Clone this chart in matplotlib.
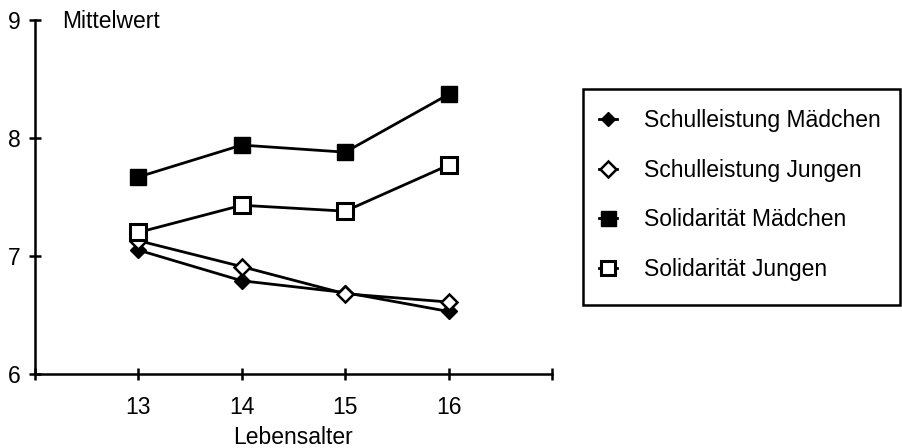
import matplotlib
matplotlib.use("Agg")
import matplotlib.pyplot as plt
from matplotlib.patches import Rectangle

plt.rcParams['font.family'] = ['Liberation Sans', 'DejaVu Sans']

ages = [13, 14, 15, 16]
schul_maedchen = [7.05, 6.79, 6.69, 6.53]
schul_jungen = [7.13, 6.91, 6.68, 6.61]
soli_maedchen = [7.67, 7.94, 7.88, 8.37]
soli_jungen = [7.20, 7.43, 7.38, 7.77]
labels = ["Schulleistung Mädchen", "Schulleistung Jungen",
          "Solidarität Mädchen", "Solidarität Jungen"]
x_ticks = [12, 13, 14, 15, 16, 17]
x_ticklabels = ["", "13", "14", "15", "16", ""]
y_ticks = [6, 7, 8, 9]

W, H = 903, 448
FS = 16.5
fig = plt.figure(figsize=(W / 100, H / 100), dpi=100)
ax = fig.add_axes([35 / W, 1 - 374 / H, (552 - 35) / W, (374 - 20) / H])

lw = 2.0
h1, = ax.plot(ages, schul_maedchen, color='black', lw=lw, marker='D', ms=8,
              mfc='black', mec='black', label=labels[0], zorder=3)
h2, = ax.plot(ages, schul_jungen, color='black', lw=lw, marker='D', ms=8.5,
              mfc='white', mec='black', mew=1.8, label=labels[1], zorder=3)
h3, = ax.plot(ages, soli_maedchen, color='black', lw=lw, marker='s', ms=12,
              mfc='black', mec='black', label=labels[2], zorder=3)
h4, = ax.plot(ages, soli_jungen, color='black', lw=lw, marker='s', ms=11,
              mfc='white', mec='black', mew=2.2, label=labels[3], zorder=4)

ax.set_xlim(12, 17)
ax.set_ylim(6, 9)
ax.set_xticks(x_ticks)
ax.set_xticklabels(x_ticklabels)
ax.set_yticks(y_ticks)
for s in ['top', 'right']:
    ax.spines[s].set_visible(False)
for s in ['left', 'bottom']:
    ax.spines[s].set_linewidth(1.8)
ax.tick_params(axis='both', direction='inout', length=9, width=1.8,
               labelsize=FS, colors='black')
ax.tick_params(axis='x', pad=11)
ax.tick_params(axis='y', pad=6)

fig.text(62 / W, 1 - 21 / H, "Mittelwert", fontsize=FS, ha='left', va='center')
fig.text(293 / W, 1 - 437 / H, "Lebensalter", fontsize=FS, ha='center', va='center')

# legend box
fig.patches.append(Rectangle((583 / W, 1 - 305 / H), (900 - 583) / W, (305 - 89) / H,
                             transform=fig.transFigure, fill=False,
                             edgecolor='black', linewidth=1.8))

leg = fig.legend(handles=[h1, h2, h3, h4], labels=labels,
                 loc='center left', bbox_to_anchor=(578 / W, 1 - 195 / H),
                 frameon=False, fontsize=FS, handlelength=0.8,
                 handletextpad=1.2, labelspacing=1.17, markerscale=0.9)

fig.savefig("out.png", dpi=100)
